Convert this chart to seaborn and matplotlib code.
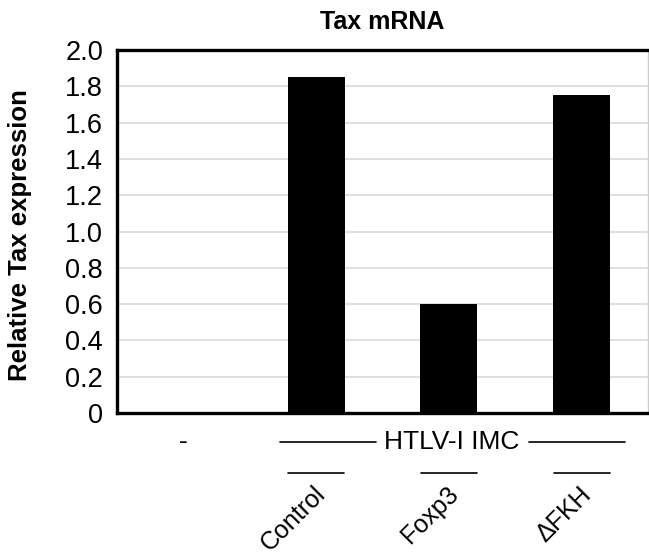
import matplotlib
matplotlib.use("Agg")
import matplotlib.pyplot as plt
import seaborn as sns
import pandas as pd

# values
groups = ["-", "Control", "Foxp3", "\u0394FKH"]
tax_expr = [0.0, 1.85, 0.60, 1.75]
y_ticks = [0, 0.2, 0.4, 0.6, 0.8, 1.0, 1.2, 1.4, 1.6, 1.8, 2.0]
y_tick_labels = ["0", "0.2", "0.4", "0.6", "0.8", "1.0", "1.2", "1.4", "1.6", "1.8", "2.0"]

df = pd.DataFrame({"group": groups, "expr": tax_expr})

sns.set_style("white")
plt.rcParams["font.family"] = ["Liberation Sans", "DejaVu Sans"]
plt.rcParams["text.color"] = "black"
plt.rcParams["ytick.color"] = "black"
plt.rcParams["axes.labelcolor"] = "black"

fig = plt.figure(figsize=(6.49, 5.57), dpi=100)
ax = fig.add_axes([117 / 649, 144 / 557, 531 / 649, 363 / 557])

sns.barplot(data=df, x="group", y="expr", color="black", width=0.43,
            saturation=1, linewidth=0, ax=ax, zorder=3)

ax.set_ylim(0, 2.0)
ax.set_xlim(-0.5, 3.5)
ax.set_yticks(y_ticks)
ax.set_yticklabels(y_tick_labels, fontsize=19.5)
ax.tick_params(axis="y", length=0, pad=10)
ax.set_xticks([])
ax.set_xlabel("")
ax.yaxis.grid(True, color="#d9d9d9", linewidth=1.2, zorder=0)
ax.set_axisbelow(True)

for side in ["left", "top", "bottom"]:
    ax.spines[side].set_color("black")
    ax.spines[side].set_linewidth(2.4)
ax.spines["right"].set_color("#cccccc")
ax.spines["right"].set_linewidth(1)

ax.set_title("Tax mRNA", fontsize=18, fontweight="bold", pad=15)
ax.set_ylabel("Relative Tax expression", fontsize=18.5, fontweight="bold")
ax.yaxis.set_label_coords(-0.16, 0.49)

# labels under the axis
trans = ax.get_xaxis_transform()
ax.text(0, -0.08, "-", transform=trans, ha="center", va="center", fontsize=19)
ax.text(2.02, -0.08, "HTLV-I IMC", transform=trans, ha="center", va="center", fontsize=19)
ax.plot([0.73, 1.45], [-0.08, -0.08], transform=trans, color="black", lw=1.2, clip_on=False)
ax.plot([2.6, 3.33], [-0.08, -0.08], transform=trans, color="black", lw=1.2, clip_on=False)
for i in range(1, 4):
    ax.plot([i - 0.21, i + 0.21], [-0.165, -0.165], transform=trans,
            color="black", lw=1.2, clip_on=False)
    ax.text(i - 0.02, -0.19, groups[i], transform=trans, ha="right", va="top",
            rotation=45, rotation_mode="anchor", fontsize=18)

fig.savefig("out.png", dpi=100)
